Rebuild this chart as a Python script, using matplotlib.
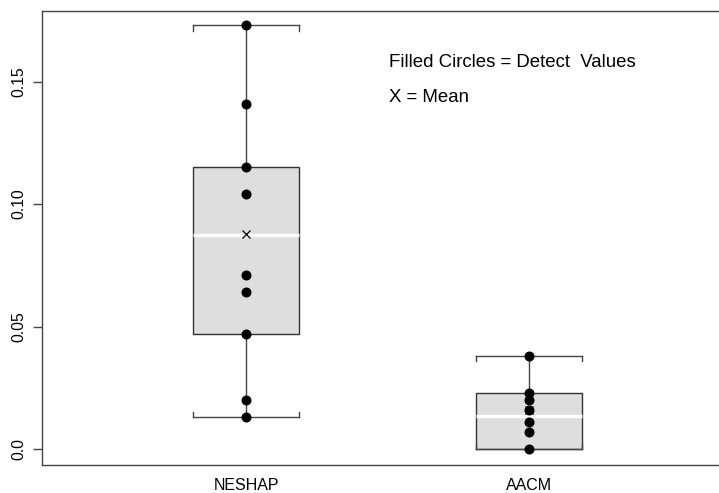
import matplotlib
matplotlib.use('Agg')
import matplotlib.pyplot as plt
import numpy as np

plt.rcParams['font.family'] = ['Liberation Sans', 'DejaVu Sans']

# groups and detected values
groups = ['NESHAP', 'AACM']
detects = [
    [0.173, 0.141, 0.115, 0.104, 0.071, 0.064, 0.047, 0.020, 0.013],
    [0.038, 0.023, 0.020, 0.016, 0.011, 0.007, 0.0],
]
# box summary (lower whisker, q1, median, q3, upper whisker) and means
whislo = [0.013, 0.0]
q1 = [0.047, 0.0]
med = [0.0875, 0.0135]
q3 = [0.115, 0.023]
whishi = [0.173, 0.038]
means = [0.0876, 0.016]

yticks = [0.0, 0.05, 0.10, 0.15]
ytick_labels = ['0.0', '0.05', '0.10', '0.15']

fig = plt.figure(figsize=(7.19, 4.93), dpi=100)
ax = fig.add_axes([0.0584, 0.0562, 0.9616, 0.9215])

pos = np.arange(1, len(groups) + 1)
box_w = 0.375

stats = []
for i, g in enumerate(groups):
    stats.append(dict(label=g, whislo=whislo[i], q1=q1[i], med=med[i],
                      q3=q3[i], whishi=whishi[i], fliers=[]))

ax.bxp(stats, positions=pos, widths=box_w, patch_artist=True,
       showfliers=False, capwidths=box_w,
       boxprops=dict(facecolor='#dedede', edgecolor='#333333', linewidth=1.0),
       medianprops=dict(color='white', linewidth=2.5),
       whiskerprops=dict(color='#444444', linewidth=1.0),
       capprops=dict(color='#444444', linewidth=1.0))

# bracket ends on the caps
hook = 0.0022
for i in range(len(groups)):
    for xe in (pos[i] - box_w / 2, pos[i] + box_w / 2):
        ax.plot([xe, xe], [whishi[i], whishi[i] - hook], color='#444444', lw=1.0)
        ax.plot([xe, xe], [whislo[i], whislo[i] + hook], color='#444444', lw=1.0)

# means
ax.plot(pos, means, linestyle='none', marker='x', color='black',
        markersize=6, markeredgewidth=0.9, zorder=4)

# detected values
for i, vals in enumerate(detects):
    ax.plot(np.full(len(vals), pos[i]), vals, linestyle='none', marker='o',
            color='black', markersize=6.2, zorder=5)

ax.set_xlim(0.28, 2.72)
ax.set_ylim(-0.0067, 0.1789)
ax.set_xticks(pos)
ax.set_xticklabels(groups, fontsize=11.5)
ax.set_yticks(yticks)
ax.set_yticklabels(ytick_labels, fontsize=11.3, rotation=90, va='center')
ax.tick_params(axis='x', length=0, pad=9)
ax.tick_params(axis='y', length=6.5, width=1.0, color='#444444', pad=4.5)

for s in ax.spines.values():
    s.set_color('#444444')
    s.set_linewidth(1.0)
ax.spines['right'].set_visible(False)

ax.text(0.502, 0.876, 'Filled Circles = Detect  Values', transform=ax.transAxes,
        fontsize=13.4, va='baseline', ha='left')
ax.text(0.502, 0.800, 'X = Mean', transform=ax.transAxes,
        fontsize=13.4, va='baseline', ha='left')

fig.savefig('out.png', dpi=100)
